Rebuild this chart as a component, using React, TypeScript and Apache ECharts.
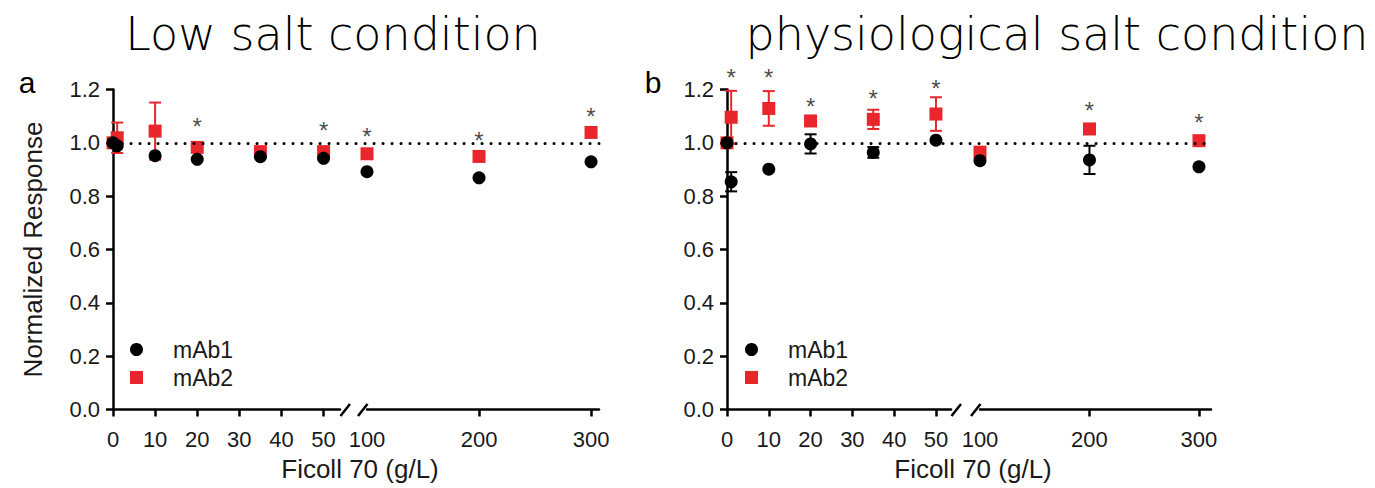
import React, { useEffect, useRef } from "react";
import * as echarts from "echarts";

// ---------- data ----------
const concentrations = [0, 1, 10, 20, 35, 50, 100, 200, 300];

// Low salt condition (panel a)
const lowMab1 = [1.0, 0.989, 0.952, 0.938, 0.948, 0.942, 0.892, 0.869, 0.929];
const lowMab1Err = [0, 0, 0, 0, 0, 0, 0, 0, 0];
const lowMab2 = [1.0, 1.019, 1.044, 0.983, 0.967, 0.967, 0.959, 0.949, 1.039];
const lowMab2Err = [0, 0.057, 0.107, 0, 0, 0, 0, 0, 0];
const lowStarX = [20, 50, 100, 200, 300];
const lowStarY = [1.085, 1.07, 1.048, 1.03, 1.123];

// Physiological salt condition (panel b)
const physMab1 = [1.0, 0.854, 0.901, 0.996, 0.964, 1.01, 0.933, 0.936, 0.91];
const physMab1Err = [0, 0.036, 0, 0.036, 0.02, 0, 0, 0.053, 0];
const physMab2 = [1.0, 1.096, 1.129, 1.082, 1.088, 1.108, 0.965, 1.052, 1.008];
const physMab2Err = [0, 0.099, 0.065, 0, 0.036, 0.063, 0, 0, 0];
const physStarX = [1, 10, 20, 35, 50, 200, 300];
const physStarY = [1.267, 1.267, 1.16, 1.19, 1.225, 1.144, 1.1];

const lowTicks = [0, 10, 20, 30, 40, 50];
const highLabels = [100, 200, 300];
const highTicks = [200, 300];
const Y_MIN = 0;
const Y_MAX = 1.2;
const Y_STEP = 0.2;
const REF_LEVEL = 1.0;

const titles = ["Low salt condition", "physiological salt condition"];
const letters = ["a", "b"];
const seriesNames = ["mAb1", "mAb2"];
const xName = "Ficoll 70 (g/L)";
const yName = "Normalized Response";

// ---------- style / layout ----------
const RED = "#E8262B";
const BLACK = "#000000";
const TEXT = "#1a1a1a";
const FONT = "'Liberation Sans', Arial, sans-serif";
const TITLE_FONT = "'DejaVu Sans', sans-serif";
const GRID_TOP = 89.5;
const GRID_H = 320;
const AXIS_W = 2.5;

const panels = [
  {
    mab1: lowMab1, mab1Err: lowMab1Err, mab2: lowMab2, mab2Err: lowMab2Err,
    starX: lowStarX, starY: lowStarY,
    x0: 113, leftW: 227, leftMax: 53.9, rightLeft: 367, rightW: 232, rightMax: 307.1,
    titleX: 333, letterX: 27, legendX: 125, showYName: true,
  },
  {
    mab1: physMab1, mab1Err: physMab1Err, mab2: physMab2, mab2Err: physMab2Err,
    starX: physStarX, starY: physStarY,
    x0: 727, leftW: 224, leftMax: 53.6, rightLeft: 980, rightW: 231, rightMax: 311,
    titleX: 1057, letterX: 653, legendX: 740, showYName: false,
  },
];

const errRender = (color: string) => (_params: any, api: any) => {
  const x = api.value(0);
  const lo = api.value(1);
  const hi = api.value(2);
  const top = api.coord([x, hi]);
  const bot = api.coord([x, lo]);
  const w = 6;
  const style = { stroke: color, lineWidth: 2 };
  return {
    type: "group",
    children: [
      { type: "line", shape: { x1: top[0], y1: top[1], x2: bot[0], y2: bot[1] }, style },
      { type: "line", shape: { x1: top[0] - w, y1: top[1], x2: top[0] + w, y2: top[1] }, style },
      { type: "line", shape: { x1: bot[0] - w, y1: bot[1], x2: bot[0] + w, y2: bot[1] }, style },
    ],
  };
};

function buildOption() {
  const grid: any[] = [];
  const xAxis: any[] = [];
  const yAxis: any[] = [];
  const series: any[] = [];
  const legend: any[] = [];
  const graphic: any[] = [];

  panels.forEach((p, pi) => {
    const frameIdx = pi * 3;
    const leftIdx = pi * 3 + 1;
    const rightIdx = pi * 3 + 2;
    const rightEnd = p.rightLeft + p.rightW;

    grid.push({ left: p.x0, top: GRID_TOP, width: rightEnd - p.x0, height: GRID_H, outerBoundsMode: "none" });
    grid.push({ left: p.x0, top: GRID_TOP, width: p.leftW, height: GRID_H, outerBoundsMode: "none" });
    grid.push({ left: p.rightLeft, top: GRID_TOP, width: p.rightW, height: GRID_H, outerBoundsMode: "none" });

    xAxis.push({
      gridIndex: frameIdx, type: "value", min: 0, max: 1,
      axisLine: { show: false }, axisTick: { show: false }, axisLabel: { show: false }, splitLine: { show: false },
      name: xName, nameLocation: "middle", nameGap: 46,
      nameTextStyle: { fontFamily: FONT, fontSize: 26, color: TEXT, padding: [0, 0, 0, 8] },
    });
    const xCommon = {
      type: "value",
      axisLine: { show: true, onZero: false, lineStyle: { color: BLACK, width: AXIS_W } },
      splitLine: { show: false },
    };
    xAxis.push({
      ...xCommon, gridIndex: leftIdx, min: 0, max: p.leftMax,
      axisTick: { show: true, length: 7, lineStyle: { color: BLACK, width: AXIS_W }, customValues: lowTicks },
      axisLabel: { show: true, customValues: lowTicks, margin: 19, fontFamily: FONT, fontSize: 22, color: TEXT },
    });
    xAxis.push({
      ...xCommon, gridIndex: rightIdx, min: 100, max: p.rightMax,
      axisTick: { show: true, length: 7, lineStyle: { color: BLACK, width: AXIS_W }, customValues: highTicks },
      axisLabel: { show: true, customValues: highLabels, margin: 19, fontFamily: FONT, fontSize: 22, color: TEXT },
    });

    yAxis.push({
      gridIndex: frameIdx, type: "value", min: Y_MIN, max: Y_MAX, interval: Y_STEP,
      axisLine: { show: true, lineStyle: { color: BLACK, width: AXIS_W } },
      axisTick: { show: true, length: 7, lineStyle: { color: BLACK, width: AXIS_W } },
      axisLabel: { margin: 13, fontFamily: FONT, fontSize: 22, color: TEXT, formatter: (v: number) => v.toFixed(1) },
      splitLine: { show: false },
      name: p.showYName ? yName : "", nameLocation: "middle", nameGap: 67, nameRotate: 90,
      nameTextStyle: { fontFamily: FONT, fontSize: 26, color: TEXT },
    });
    yAxis.push({ gridIndex: leftIdx, type: "value", min: Y_MIN, max: Y_MAX, show: false });
    yAxis.push({ gridIndex: rightIdx, type: "value", min: Y_MIN, max: Y_MAX, show: false });

    series.push({
      type: "line", xAxisIndex: frameIdx, yAxisIndex: frameIdx, data: [], silent: true, z: 1,
      markLine: {
        silent: true, symbol: ["none", "none"], label: { show: false },
        lineStyle: { color: BLACK, width: 3, type: [0.1, 8.9], cap: "round" },
        emphasis: { disabled: true },
        data: [{ yAxis: REF_LEVEL }],
      },
    });

    [[leftIdx, (x: number) => x <= 50], [rightIdx, (x: number) => x >= 100]].forEach(([gi, inSeg]: any) => {
      const idxs = concentrations.map((x, i) => i).filter((i) => inSeg(concentrations[i]));
      const errData = (vals: number[], errs: number[]) =>
        idxs.filter((i) => errs[i] > 0).map((i) => [concentrations[i], vals[i] - errs[i], vals[i] + errs[i]]);
      series.push({
        type: "custom", name: "mAb2 err", xAxisIndex: gi, yAxisIndex: gi, z: 2, silent: true,
        renderItem: errRender(RED), data: errData(p.mab2, p.mab2Err),
      });
      series.push({
        type: "scatter", name: seriesNames[1], xAxisIndex: gi, yAxisIndex: gi, z: 3, clip: false,
        symbol: "rect", symbolSize: 13, itemStyle: { color: RED, opacity: 1 },
        data: idxs.map((i) => [concentrations[i], p.mab2[i]]),
      });
      series.push({
        type: "custom", name: "mAb1 err", xAxisIndex: gi, yAxisIndex: gi, z: 4, silent: true,
        renderItem: errRender(BLACK), data: errData(p.mab1, p.mab1Err),
      });
      series.push({
        type: "scatter", name: seriesNames[0], xAxisIndex: gi, yAxisIndex: gi, z: 5, clip: false,
        symbol: "circle", symbolSize: 13, itemStyle: { color: BLACK, opacity: 1 },
        data: idxs.map((i) => [concentrations[i], p.mab1[i]]),
      });
      const stars = p.starX.map((x, k) => [x, p.starY[k]]).filter((d) => inSeg(d[0]));
      series.push({
        type: "scatter", name: "significance", xAxisIndex: gi, yAxisIndex: gi, z: 6, clip: false,
        symbolSize: 0, silent: true, data: stars,
        label: {
          show: true, position: "inside", formatter: "*", offset: [0, 6],
          fontFamily: FONT, fontSize: 24, color: "#1a1a1a",
        },
      });
    });

    legend.push({
      left: p.legendX, top: 333, orient: "vertical", itemWidth: 13, itemHeight: 13, itemGap: 5,
      selectedMode: false,
      data: [
        { name: seriesNames[0], icon: "circle" },
        { name: seriesNames[1], icon: "rect" },
      ],
      textStyle: { fontFamily: FONT, fontSize: 23, color: TEXT, padding: [0, 0, 0, 25] },
    });

    graphic.push({
      type: "text", x: p.titleX, y: 34,
      style: {
        text: titles[pi], fontFamily: TITLE_FONT, fontSize: 46, fontWeight: 200, fill: "#000",
        align: "center", verticalAlign: "middle", textAlign: "center", textVerticalAlign: "middle",
      },
    });
    graphic.push({
      type: "text", x: p.letterX, y: 82,
      style: {
        text: letters[pi], fontFamily: FONT, fontSize: 30, fill: "#000",
        align: "center", verticalAlign: "middle", textAlign: "center", textVerticalAlign: "middle",
      },
    });

    const axisY = GRID_TOP + GRID_H;
    const breakL = p.x0 + p.leftW;
    const breakR = p.rightLeft;
    [breakL + 0.5, breakR - 9].forEach((bx) => {
      graphic.push({
        type: "line",
        shape: { x1: bx, y1: axisY + 6.5, x2: bx + 9.5, y2: axisY - 5.5 },
        style: { stroke: BLACK, lineWidth: 2.5 },
      });
    });
  });

  return { animation: false, backgroundColor: "#ffffff", grid, xAxis, yAxis, series, legend, graphic, tooltip: { show: false } };
}

export default function App() {
  const ref = useRef<HTMLDivElement>(null);
  useEffect(() => {
    document.body.style.margin = "0";
    if (!ref.current) return;
    const chart = echarts.init(ref.current, undefined, { renderer: "svg" });
    chart.setOption(buildOption() as any);
    return () => chart.dispose();
  }, []);
  return <div ref={ref} style={{ width: 1375, height: 488 }} />;
}
